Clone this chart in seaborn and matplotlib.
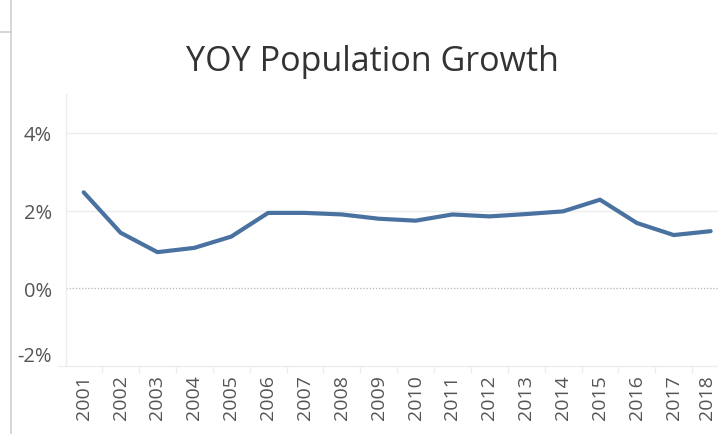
import matplotlib
matplotlib.use("Agg")
import matplotlib.pyplot as plt
import matplotlib.transforms as mtransforms
from matplotlib.lines import Line2D
from matplotlib.ticker import FixedLocator, FuncFormatter
import seaborn as sns
import pandas as pd

# Year-over-year population growth, in percent
years = [2001, 2002, 2003, 2004, 2005, 2006, 2007, 2008, 2009,
         2010, 2011, 2012, 2013, 2014, 2015, 2016, 2017, 2018]
growth_pct = [2.47, 1.43, 0.93, 1.04, 1.33, 1.94, 1.94, 1.90, 1.79,
              1.74, 1.90, 1.85, 1.91, 1.98, 2.28, 1.68, 1.37, 1.47]
y_ticks = [-2, 0, 2, 4]

df = pd.DataFrame({"Year": years, "Growth": growth_pct})

sns.set_theme(style="white")
plt.rcParams["font.family"] = ["Open Sans", "DejaVu Sans"]

W, H = 718, 435
fig = plt.figure(figsize=(W / 100, H / 100), dpi=100)
ax = fig.add_axes([66 / W, 1 - 367 / H, (W - 66) / W, (367 - 95) / H])

grid_c = "#ececec"
for v in [2, 4]:
    ax.axhline(v, color=grid_c, lw=1.0, zorder=0)
ax.axhline(0, color="#b5b5b5", lw=0.9, ls=(0, (1, 1.5)), zorder=1)

sns.lineplot(data=df, x="Year", y="Growth", ax=ax, color="#4a72a1",
             linewidth=3.0, solid_capstyle="round", solid_joinstyle="round",
             zorder=3)

ax.set_xlim(years[0] - 0.48, years[0] + 17.2)
ax.set_ylim(-2, 5)
ax.set_xlabel("")
ax.set_ylabel("")

ax.xaxis.set_major_locator(FixedLocator(years))
ax.xaxis.set_minor_locator(FixedLocator([y - 0.5 for y in years] + [years[-1] + 0.5]))
ax.tick_params(axis="x", which="major", length=0, pad=6, labelsize=14,
               labelcolor="#555555", rotation=90)
ax.tick_params(axis="x", which="minor", length=5, width=0.9, color=grid_c,
               direction="out", bottom=True)
ax.yaxis.set_major_locator(FixedLocator(y_ticks))
ax.yaxis.set_major_formatter(FuncFormatter(lambda v, p: f"{v:.0f}%"))
ax.tick_params(axis="y", length=0, pad=10, labelsize=14.5, labelcolor="#555555")
for lbl in ax.get_yticklabels():
    if lbl.get_text().startswith("-2"):
        lbl.set_va("bottom")

# keep the last year label inside the right edge
fig.canvas.draw()
last = ax.get_xticklabels()[-1]
last.set_transform(last.get_transform() +
                   mtransforms.ScaledTranslation(-4 / 100, 0, fig.dpi_scale_trans))

for side in ["top", "right", "bottom"]:
    ax.spines[side].set_visible(False)
ax.spines["left"].set_color(grid_c)
ax.spines["left"].set_linewidth(1.0)

# bottom axis rule, extending a little left of the value axis
fig.add_artist(Line2D([58 / W, 1], [1 - 367 / H, 1 - 367 / H],
                      color=grid_c, lw=1.0))
# outer dashboard frame lines
fig.add_artist(Line2D([10.5 / W, 10.5 / W], [0, 1], color="#d0d0d0", lw=1.2))
fig.add_artist(Line2D([0, 10.5 / W], [1 - 33 / H, 1 - 33 / H], color="#d0d0d0", lw=1.2))

fig.text(372 / W, 1 - 62 / H, "YOY Population Growth", ha="center", va="center",
         fontsize=24.5, color="#333333")

fig.savefig("out.png", dpi=100, facecolor="white")
